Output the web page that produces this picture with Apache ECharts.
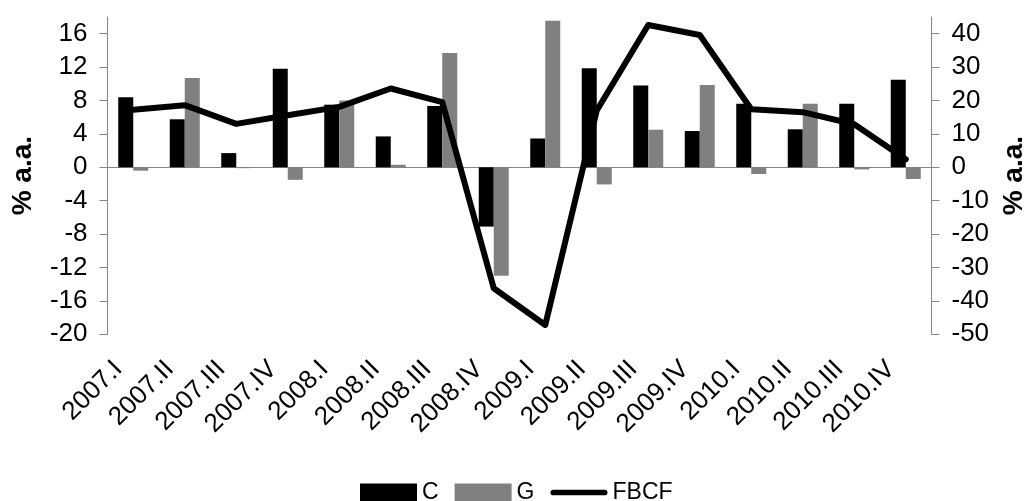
<!DOCTYPE html>
<html>
<head>
<meta charset="utf-8">
<script src="https://cdn.jsdelivr.net/npm/echarts@6/dist/echarts.min.js"></script>
<style>
html,body{margin:0;padding:0;background:#fff;}
#chart{width:1026px;height:501px;}
</style>
</head>
<body>
<div id="chart"></div>
<script>
const categories = ['2007.I','2007.II','2007.III','2007.IV','2008.I','2008.II','2008.III','2008.IV','2009.I','2009.II','2009.III','2009.IV','2010.I','2010.II','2010.III','2010.IV'];
const seriesC = [8.4, 5.75, 1.7, 11.8, 7.5, 3.7, 7.35, -7.1, 3.45, 11.85, 9.8, 4.35, 7.6, 4.55, 7.6, 10.5];
const seriesG = [-0.4, 10.7, -0.1, -1.5, 8.0, 0.3, 13.7, -13.0, 17.55, -2.05, 4.5, 9.85, -0.8, 7.6, -0.25, -1.4];
const seriesFBCF = [17.2, 18.6, 13.0, 15.6, 18.1, 23.6, 19.5, -36.2, -47.2, 17.0, 42.6, 39.6, 17.4, 16.5, 12.9, 2.4];
const leftTicks = [-20, -16, -12, -8, -4, 0, 4, 8, 12, 16];
const rightTicks = [-50, -40, -30, -20, -10, 0, 10, 20, 30, 40];
const axisTitle = '% a.a.';

const FONT = 'Liberation Sans, Arial, sans-serif';
const AXIS_GRAY = '#868686';
const FS = 26;

const chart = echarts.init(document.getElementById('chart'), null, {renderer: 'canvas'});
chart.setOption({
  animation: false,
  backgroundColor: '#ffffff',
  textStyle: {fontFamily: FONT},
  grid: {left: 107.5, right: 94.5, top: 17, bottom: 166.7, containLabel: false, outerBoundsMode: 'none'},
  legend: {
    left: 355, top: 476,
    itemWidth: 57, itemHeight: 18, itemGap: 16,
    textStyle: {fontSize: 23, color: '#000', fontFamily: FONT},
    data: [
      {name: 'C', icon: 'rect'},
      {name: 'G', icon: 'rect'},
      {name: 'FBCF', icon: 'path://M5,0 L95,0 A5,5 0 0 1 95,10 L5,10 A5,5 0 0 1 5,0 Z', itemStyle: {color: '#000'}}
    ],
    symbolKeepAspect: true
  },
  xAxis: [{
    type: 'category', data: categories, position: 'bottom',
    axisLine: {show: false, onZero: false},
    axisTick: {show: false},
    axisLabel: {rotate: 45, fontSize: FS, color: '#000', margin: 16, padding: [0, 21, 0, 0], interval: 0, fontFamily: FONT}
  }, {
    type: 'category', data: categories, position: 'top',
    axisLine: {show: true, onZero: true, onZeroAxisIndex: 0, lineStyle: {color: AXIS_GRAY, width: 1}},
    axisTick: {show: false},
    axisLabel: {show: false}
  }],
  yAxis: [{
    type: 'value', min: -20, max: 18, interval: 4, position: 'left',
    name: axisTitle, nameLocation: 'middle', nameRotate: 90, nameGap: 70,
    nameTextStyle: {fontSize: 28, fontWeight: 'bold', color: '#000', fontFamily: FONT},
    axisLine: {show: true, lineStyle: {color: AXIS_GRAY, width: 1}},
    axisTick: {show: true, length: 8, inside: false, customValues: leftTicks, lineStyle: {color: AXIS_GRAY}},
    axisLabel: {fontSize: FS, color: '#000', margin: 20, customValues: leftTicks, fontFamily: FONT},
    splitLine: {show: false}
  }, {
    type: 'value', min: -50, max: 45, interval: 10, position: 'right',
    name: axisTitle, nameLocation: 'middle', nameRotate: 90, nameGap: 69,
    nameTextStyle: {fontSize: 28, fontWeight: 'bold', color: '#000', fontFamily: FONT},
    axisLine: {show: true, lineStyle: {color: AXIS_GRAY, width: 1}},
    axisTick: {show: true, length: 8, inside: false, customValues: rightTicks, lineStyle: {color: AXIS_GRAY}},
    axisLabel: {fontSize: FS, color: '#000', margin: 20, customValues: rightTicks, fontFamily: FONT},
    splitLine: {show: false}
  }],
  series: [{
    name: 'C', type: 'bar', xAxisIndex: 0, yAxisIndex: 0, data: seriesC,
    barWidth: 15, barGap: '0%', itemStyle: {color: '#000000'}
  }, {
    name: 'G', type: 'bar', xAxisIndex: 0, yAxisIndex: 0, data: seriesG,
    barWidth: 15, barGap: '0%', itemStyle: {color: '#808080'}
  }, {
    name: 'FBCF', type: 'line', xAxisIndex: 0, yAxisIndex: 1, data: seriesFBCF,
    symbol: 'none', z: 5,
    lineStyle: {color: '#000000', width: 6, cap: 'round', join: 'round'},
    itemStyle: {color: '#000000'}
  }]
});
</script>
</body>
</html>
